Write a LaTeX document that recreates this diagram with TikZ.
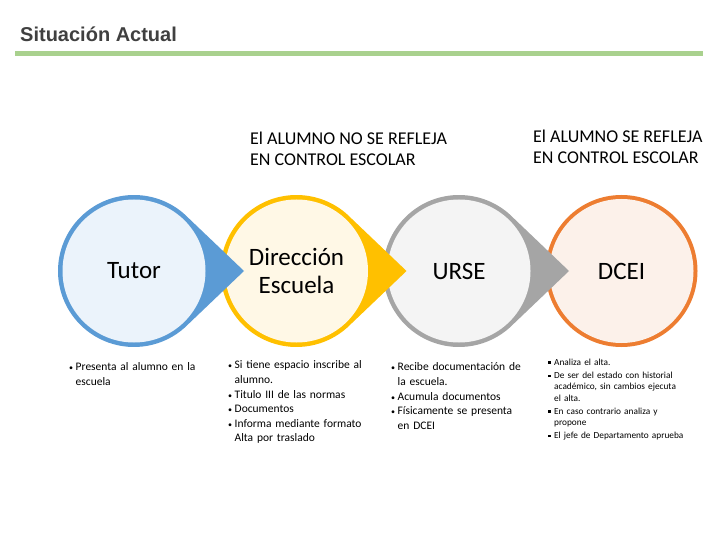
\documentclass[tikz,border=0pt]{standalone}
\usepackage{fontspec}
\setmainfont{Carlito}
\newfontfamily\titlefont{Liberation Sans}
\definecolor{blueB}{HTML}{5B9BD5}
\definecolor{blueF}{HTML}{EBF3FB}
\definecolor{yellowB}{HTML}{FFC000}
\definecolor{yellowF}{HTML}{FFF8E6}
\definecolor{grayB}{HTML}{A5A5A5}
\definecolor{grayF}{HTML}{F4F4F4}
\definecolor{orangeB}{HTML}{ED7D31}
\definecolor{orangeF}{HTML}{FCF1EA}
\definecolor{barG}{HTML}{A9D18E}
\definecolor{titleG}{HTML}{404040}
\newcommand\tdrop[3]{%
  \fill[#2] (#1,-271) ++(44:76) arc[start angle=44,end angle=316,radius=76] -- (#1+110,-271) -- cycle;
  \fill[#3] (#1,-271) circle[radius=71.5];}
\newcommand\bl[1]{\par\hangindent=6.5pt\hangafter=1\noindent\makebox[6.5pt][l]{\fontsize{8}{8}\selectfont•}#1}
\newcommand\sq[1]{\par\vspace{2pt}\hangindent=6pt\hangafter=1\noindent\makebox[6pt][l]{\raisebox{1.5pt}{\rule{2.6pt}{2.6pt}}}#1}
\tikzset{
  circtext/.style={font=\fontsize{25}{28}\selectfont, align=center, inner sep=0pt},
  head/.style={anchor=north west, align=left, font=\fontsize{18}{21}\selectfont, inner sep=0pt},
  blist/.style={anchor=north west, text width=160pt, font=\fontsize{11.5}{14.6}\selectfont, inner sep=0pt},
  slist/.style={anchor=north west, text width=170pt, font=\fontsize{9.3}{11.2}\selectfont, inner sep=0pt}
}
\begin{document}
\begin{tikzpicture}[x=1pt,y=1pt]
\useasboundingbox (0,0) rectangle (720,-540);
\node[anchor=base west, inner sep=0pt, text=titleG, font=\titlefont\bfseries\fontsize{20}{22}\selectfont] (title) at (20,-42) {Situación Actual};
\fill[barG] (15,-51) rectangle (703,-56);

% circles, drawn right to left so arrows overlap the next circle
\fill[orangeB] (621.5,-271) circle[radius=76];
\fill[orangeF] (621.5,-271) circle[radius=72];
\tdrop{459}{grayB}{grayF}
\tdrop{296.5}{yellowB}{yellowF}
\tdrop{134}{blueB}{blueF}

\node[circtext] (tutor) at (134,-271) {Tutor};
\node[circtext] (dir) at (296.5,-271) {Dirección\\Escuela};
\node[circtext] (urse) at (459,-271) {URSE};
\node[circtext] (dcei) at (621.5,-271) {DCEI};

\node[head] (h1) at (250,-132) {El ALUMNO NO SE REFLEJA\\EN CONTROL ESCOLAR};
\node[head] (h2) at (533,-130) {El ALUMNO SE REFLEJA\\EN CONTROL ESCOLAR};

\node[blist] (l1) at (69,-356) {\raggedright\bl{Presenta al alumno en la\newline escuela}\par};
\node[blist] (l2) at (228,-354) {\raggedright\bl{Si tiene espacio inscribe al\newline alumno.}\bl{Titulo III de las normas}\bl{Documentos}\bl{Informa mediante formato\newline Alta por traslado}\par};
\node[blist] (l3) at (391,-356) {\raggedright\bl{Recibe documentación de\newline la escuela.}\bl{Acumula documentos}\bl{Físicamente se presenta\newline en DCEI}\par};
\node[slist] (l4) at (548,-352) {\raggedright\sq{Analiza el alta.}\sq{De ser del estado con historial\newline académico, sin cambios ejecuta\newline el alta.}\sq{En caso contrario analiza y\newline propone}\sq{El jefe de Departamento aprueba}\par};
\end{tikzpicture}
\end{document}
